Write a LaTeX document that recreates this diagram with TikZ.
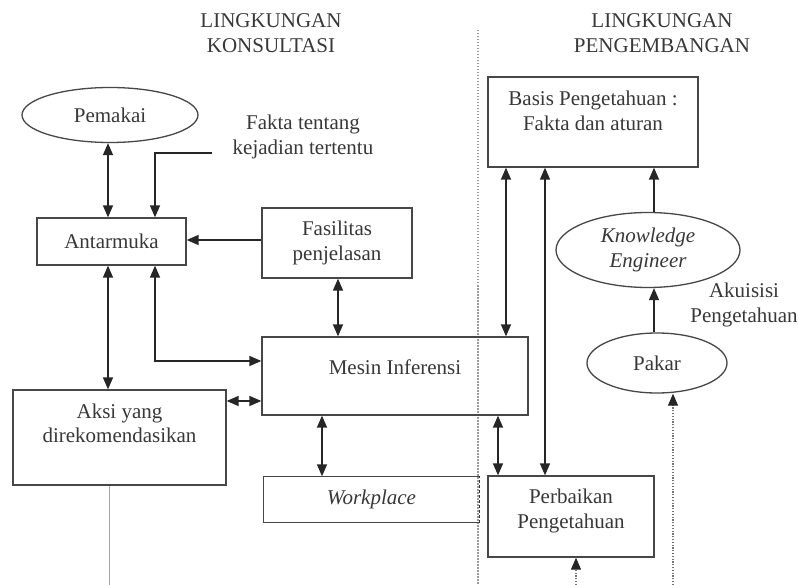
\documentclass[tikz,border=0pt]{standalone}
\usepackage{fontspec}
\setmainfont{Liberation Serif}
\usetikzlibrary{arrows.meta,shapes.geometric}
\begin{document}
\begin{tikzpicture}[x=1pt,y=-1pt,
  every node/.style={font=\fontsize{21}{25}\selectfont, text=black!78},
  box/.style={draw=black!72, line width=1.3pt, rectangle, inner sep=0pt},
  oval/.style={draw=black!72, line width=1.3pt, ellipse, inner sep=0pt},
  conn/.style={draw=black!85, line width=1.5pt},
  dbl/.style={conn, {Triangle[length=12pt,width=10pt]}-{Triangle[length=12pt,width=10pt]}},
  sgl/.style={conn, -{Triangle[length=12pt,width=10pt]}},
  dotarr/.style={draw=black!55, line width=1.2pt, dash pattern=on 1.2pt off 1.6pt, -{Triangle[length=12pt,width=10pt,color=black!85]}},
  divider/.style={draw=black!40, line width=1.5pt, dash pattern=on 1.5pt off 1.5pt},
  ital/.style={font=\fontsize{21}{25}\selectfont\itshape}
]
\useasboundingbox (0,0) rectangle (798,585);
\fill[white] (0,0) rectangle (798,585);

% titles
\node[align=center] (t1) at (271,33) {LINGKUNGAN\\KONSULTASI};
\node[align=center] (t2) at (662,33) {LINGKUNGAN\\PENGEMBANGAN};

% divider
\coordinate (dtop) at (478,30);
\coordinate (dbot) at (478,585);
\draw[divider] (dtop) -- (dbot);

% nodes
\node[oval, minimum width=176pt, minimum height=55pt] (pem) at (110,115) {Pemakai};
\node[box, minimum width=149pt, minimum height=47pt] (ant) at (111.5,241.5) {Antarmuka};
\node[box, minimum width=150pt, minimum height=70pt, align=center] (fas) at (337,243) {Fasilitas\\penjelasan};
\node[box, minimum width=266pt, minimum height=78pt] (mes) at (395,376) {};
\node (mestxt) at ([yshift=9pt]mes.center) {Mesin Inferensi};
\node[box, minimum width=213pt, minimum height=95pt] (aksi) at (119.5,437.5) {};
\node[align=center, font=\fontsize{21}{23.5}\selectfont] (aksitxt) at ([yshift=14pt]aksi.center) {Aksi yang\\direkomendasikan};
\node[minimum width=215pt, minimum height=46pt, inner sep=0pt, ital] (work) at (371.5,499.5) {Workplace};
\draw[draw=black!72, line width=1.3pt] (work.north east) -- (work.north west) -- (work.south west) -- (work.south east);
\draw[draw=black!80, line width=1.3pt, dash pattern=on 3pt off 2pt] (work.south east) -- (work.north east);
\node[box, minimum width=210pt, minimum height=90pt] (basis) at (593,122) {};
\node[align=center] (basistxt) at ([yshift=11.5pt]basis.center) {Basis Pengetahuan :\\Fakta dan aturan};
\node[box, minimum width=166pt, minimum height=81pt] (perb) at (571,516.5) {};
\node[align=center] (perbtxt) at ([yshift=6pt]perb.center) {Perbaikan\\Pengetahuan};
\node[oval, minimum width=184pt, minimum height=75pt, align=center, ital] (ke) at (648,250) {Knowledge\\Engineer};
\node[oval, minimum width=140pt, minimum height=60pt] (pakar) at (657,363) {Pakar};
\node[align=center] (fakta) at (303,137) {Fakta tentang\\kejadian tertentu};
\node[align=center] (akuisisi) at (744,305) {Akuisisi\\Pengetahuan};

% connectors
\draw[dbl] ([xshift=-2pt]pem.south) -- ([xshift=-3.5pt]ant.north);
\coordinate (fk) at (212,153);
\draw[sgl] (fk) -| ([xshift=43.5pt]ant.north);
\draw[sgl] ([yshift=3pt]fas.west) -- ([yshift=3pt]fas.west -| ant.east);
\draw[dbl] ([xshift=1pt]fas.south) -- ([xshift=1pt]fas.south |- mes.north);
\draw[dbl] ([xshift=43.5pt]ant.south) |- ([yshift=15pt]mes.west);
\draw[dbl] ([xshift=-3.5pt]ant.south) -- ([xshift=-3.5pt]ant.south |- aksi.north);
\draw[dbl] ([yshift=-25pt]mes.west) -- ([yshift=-25pt]mes.west -| aksi.east);
\draw[dbl] ([xshift=-49.5pt]work.north) -- ([xshift=-49.5pt]work.north |- mes.south);
\draw[dbl] ([xshift=-73pt]perb.north) -- ([xshift=-73pt]perb.north |- mes.south);
\draw[dbl] ([xshift=-87pt]basis.south) -- ([xshift=-87pt]basis.south |- mes.north);
\draw[dbl] ([xshift=-48pt]basis.south) -- ([xshift=-48pt]basis.south |- perb.north);
\draw[sgl] ([xshift=6pt]ke.north) -- ([xshift=6pt]ke.north |- basis.south);
\draw[sgl] ([xshift=-3pt]pakar.north) -- ([xshift=-3pt]pakar.north |- ke.south);
\coordinate (pk) at (673,585);
\draw[dotarr] (pk) -- (pk |- pakar.south);
\coordinate (pb) at (576,585);
\draw[dotarr] (pb) -- (pb |- perb.south);
\coordinate (ak) at (109,585);
\draw[draw=black!35, line width=0.8pt] (ak |- aksi.south) -- (ak);
\end{tikzpicture}
\end{document}
